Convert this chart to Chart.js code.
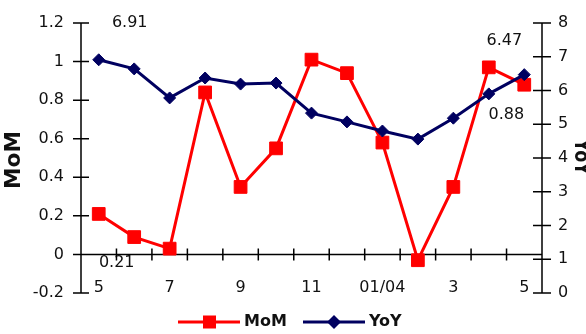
<!DOCTYPE html>
<html>
<head>
<meta charset="utf-8">
<script src="https://cdn.jsdelivr.net/npm/chart.js@4.4.1/dist/chart.umd.min.js"></script>
<style>
  body { margin: 0; background: #fff; }
  canvas { display: block; }
</style>
</head>
<body>
<canvas id="chart" width="586" height="334"></canvas>
<script>
// months, 2003/05 .. 2004/05
const categories = ['5', '6', '7', '8', '9', '10', '11', '12', '01/04', '2', '3', '4', '5'];
const momValues = [0.21, 0.09, 0.03, 0.84, 0.35, 0.55, 1.01, 0.94, 0.58, -0.03, 0.35, 0.97, 0.88];
const yoyValues = [6.91, 6.64, 5.78, 6.37, 6.19, 6.22, 5.33, 5.07, 4.80, 4.56, 5.18, 5.90, 6.47];
const momTicks = [-0.2, 0, 0.2, 0.4, 0.6, 0.8, 1, 1.2];
const yoyTicks = [0, 1, 2, 3, 4, 5, 6, 7, 8];

const RED = '#ff0000';
const NAVY = '#000060';
const FONT = '"DejaVu Sans", Arial, sans-serif';

var ctx = document.getElementById('chart').getContext('2d');

// axes, tick marks, tick labels, data labels, titles, legend
var decorPlugin = {
  id: 'decor',
  beforeDatasetsDraw: function(chart) {
    var c = chart.ctx;
    var x = chart.scales.x, y = chart.scales.y, y1 = chart.scales.y1;
    var area = chart.chartArea;
    c.save();
    c.fillStyle = '#111';
    c.font = '16px ' + FONT;
    c.textBaseline = 'middle';

    // left tick labels
    c.textAlign = 'right';
    momTicks.forEach(function(v) {
      c.fillText(String(v), 64, y.getPixelForValue(v));
    });
    // right tick labels
    c.textAlign = 'left';
    yoyTicks.forEach(function(v) {
      c.fillText(String(v), 558, y1.getPixelForValue(v));
    });
    // category labels, every other one
    c.textAlign = 'center';
    categories.forEach(function(lab, i) {
      if (i % 2 === 0) c.fillText(lab, x.getPixelForValue(i), 288);
    });

    // data labels for first and last points
    var last = categories.length - 1;
    var lbl = function(txt, i, v, scale, dx, dy) {
      c.fillText(txt, x.getPixelForValue(i) + dx, scale.getPixelForValue(v) + dy);
    };
    lbl(yoyValues[0].toFixed(2), 0, yoyValues[0], y1, 31, -37);
    lbl(momValues[0].toFixed(2), 0, momValues[0], y, 18, 49);
    lbl(yoyValues[last].toFixed(2), last, yoyValues[last], y1, -20, -34);
    lbl(momValues[last].toFixed(2), last, momValues[last], y, -18, 30);

    // axis lines
    c.strokeStyle = '#000';
    c.lineWidth = 1.5;
    var zero = y.getPixelForValue(0);
    c.beginPath();
    c.moveTo(area.left, area.top); c.lineTo(area.left, area.bottom);
    c.moveTo(area.right, area.top); c.lineTo(area.right, area.bottom);
    c.moveTo(area.left, zero); c.lineTo(area.right, zero);
    momTicks.forEach(function(v) {
      var py = y.getPixelForValue(v);
      c.moveTo(area.left - 8, py); c.lineTo(area.left + 8, py);
    });
    yoyTicks.forEach(function(v) {
      var py = y1.getPixelForValue(v);
      c.moveTo(area.right - 9, py); c.lineTo(area.right + 9, py);
    });
    var step = (area.right - area.left) / categories.length;
    for (var k = 1; k < categories.length; k++) {
      var px = area.left + k * step;
      c.moveTo(px, zero - 6); c.lineTo(px, zero + 6);
    }
    c.stroke();

    // axis titles
    c.font = 'bold 16px ' + FONT;
    c.textAlign = 'center';
    c.save();
    c.translate(15, 160);
    c.rotate(-Math.PI / 2);
    c.scale(1.35, 1.3);
    c.fillText('MoM', 0, 0);
    c.restore();
    c.save();
    c.translate(580, 157);
    c.rotate(Math.PI / 2);
    c.scale(1.1, 1.3);
    c.fillText('YoY', 0, 0);
    c.restore();

    // legend
    var ly = 322;
    c.lineWidth = 3;
    c.strokeStyle = RED;
    c.beginPath(); c.moveTo(178, ly); c.lineTo(240, ly); c.stroke();
    c.fillStyle = RED;
    c.fillRect(203, ly - 6.5, 13, 13);
    c.strokeStyle = NAVY;
    c.beginPath(); c.moveTo(303, ly); c.lineTo(365, ly); c.stroke();
    c.fillStyle = NAVY;
    c.beginPath();
    c.moveTo(334, ly - 7); c.lineTo(341, ly); c.lineTo(334, ly + 7); c.lineTo(327, ly);
    c.closePath(); c.fill();
    c.fillStyle = '#111';
    c.textAlign = 'left';
    c.fillText('MoM', 244, ly);
    c.fillText('YoY', 369, ly);
    c.restore();
  }
};

var chart = new Chart(ctx, {
  type: 'line',
  data: {
    labels: categories,
    datasets: [
      {
        label: 'MoM',
        data: momValues,
        yAxisID: 'y',
        order: 1,
        borderColor: RED,
        backgroundColor: RED,
        borderWidth: 3,
        pointStyle: 'rect',
        pointRadius: 9,
        pointBorderWidth: 1,
        pointBorderColor: RED,
        pointBackgroundColor: RED,
        tension: 0
      },
      {
        label: 'YoY',
        data: yoyValues,
        yAxisID: 'y1',
        order: 0,
        borderColor: NAVY,
        backgroundColor: NAVY,
        borderWidth: 3,
        pointStyle: 'rectRot',
        pointRadius: 6,
        pointBorderWidth: 1,
        pointBorderColor: NAVY,
        pointBackgroundColor: NAVY,
        tension: 0
      }
    ]
  },
  options: {
    responsive: false,
    animation: false,
    layout: { padding: { left: 81, right: 44, top: 23, bottom: 41 } },
    plugins: {
      legend: { display: false },
      tooltip: { enabled: false }
    },
    scales: {
      x: { display: false, offset: true },
      y: { display: false, min: -0.2, max: 1.2 },
      y1: { display: false, min: 0, max: 8 }
    }
  },
  plugins: [decorPlugin]
});
</script>
</body>
</html>
